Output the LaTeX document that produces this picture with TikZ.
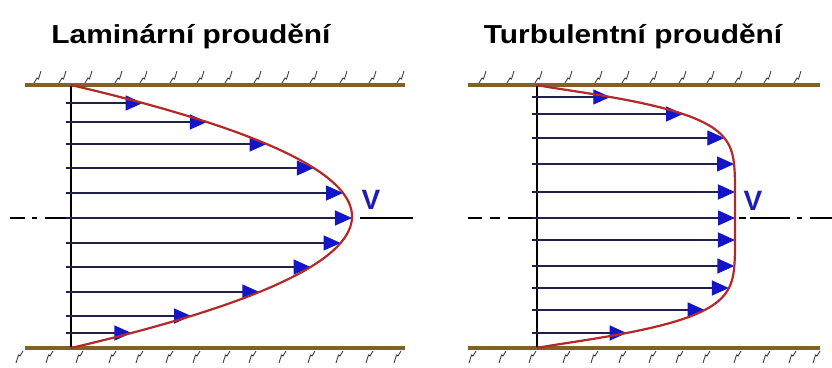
\documentclass[tikz,border=0pt]{standalone}
\usepackage{fontspec}
\setmainfont{Liberation Sans}
\usetikzlibrary{arrows.meta}
\definecolor{wallc}{HTML}{806226}
\definecolor{hatchc}{HTML}{404040}
\definecolor{linec}{HTML}{20204A}
\definecolor{tipc}{HTML}{1414C8}
\definecolor{profc}{HTML}{B42828}
\definecolor{vc}{HTML}{1E1EB4}
\tikzset{
  wall/.style={draw=wallc, line width=4pt},
  hatchstroke/.style={draw=hatchc, line width=0.9pt},
  axisline/.style={draw=black, line width=2.6pt},
  vel/.style={draw=linec, line width=1.3pt, -{Triangle[length=17pt,width=15pt,color=tipc]}},
  profile/.style={draw=profc, line width=2.2pt},
  cline/.style={draw=black, line width=1.3pt},
  title/.style={font=\fontsize{26}{30}\selectfont\bfseries, anchor=base, inner sep=0pt},
  vlabel/.style={font=\fontsize{28}{30}\selectfont\bfseries, text=vc, inner sep=0pt}
}
\begin{document}
\begin{tikzpicture}[x=1pt,y=-1pt,
  declare function={
    lam(\y)=71+281*(1-((\y-216.5)/131.5)^2);
    tur(\y)=537+198*(max(1-(abs(\y-216.5)/131.5)^6,0.00001))^1.2;
  }]
\useasboundingbox (0,0) rectangle (832,367);
\fill[white] (0,0) rectangle (832,367);

% titles
\node[title] (t1) at (191,43) {\scalebox{1.15}[1]{Laminární proudění}};
\node[title] (t2) at (633,43) {\scalebox{1.15}[1]{Turbulentní proudění}};

% hatching
\foreach \x in {37,62,88,118,143,173,200,228,257,285,313,343,372,400,
                482,510,538,568,598,625,653,682,710,738,767,797}
  \draw[hatchstroke] (\x-3,83) -- (\x,78) -- (\x+1.5,79) -- (\x+4,71);
\foreach \x in {20,50,80,113,140,170,197,227,253,283,312,340,370,398,
                473,503,533,567,595,623,653,680,707,738,767,793,817}
  \draw[hatchstroke] (\x+3,351) -- (\x,356) -- (\x-1.5,355) -- (\x-4,363);

% walls
\coordinate (lw1) at (25,85); \coordinate (lw2) at (405,85);
\coordinate (lw3) at (25,348); \coordinate (lw4) at (405,348);
\coordinate (rw1) at (468,85); \coordinate (rw2) at (820,85);
\coordinate (rw3) at (468,348); \coordinate (rw4) at (820,348);
\draw[wall] (lw1) -- (lw2);
\draw[wall] (lw3) -- (lw4);
\draw[wall] (rw1) -- (rw2);
\draw[wall] (rw3) -- (rw4);

% centre lines
\draw[cline] (10,218) -- (25,218);
\draw[cline] (32,218) -- (37,218);
\draw[cline] (45,218) -- (66,218);
\draw[cline] (360,218) -- (413,218);
\draw[cline] (468,218) -- (482,218);
\draw[cline] (490,218) -- (500,218);
\draw[cline] (508,218) -- (532,218);
\draw[cline] (739,218) -- (746,218);
\draw[cline] (750,218) -- (790,218);
\draw[cline] (797,218) -- (802,218);
\draw[cline] (810,218) -- (832,218);

% vertical axes
\coordinate (la) at (71,86); \coordinate (lb) at (71,347);
\coordinate (ra) at (537,86); \coordinate (rb) at (537,347);
\draw[axisline] (la) -- (lb);
\draw[axisline] (ra) -- (rb);

% laminar velocity vectors
\foreach \y in {103,122,144,168,193,218,243,267,292,316,333} {
  \pgfmathsetmacro{\xe}{lam(\y)}
  \draw[vel] (66,\y) -- (\xe,\y);
}
% laminar profile
\draw[profile] plot[domain=85:348, samples=80] ({lam(\x)}, \x);

% turbulent velocity vectors
\foreach \y in {97,114,138,164,192,218,240,266,288,310,333} {
  \pgfmathsetmacro{\xe}{tur(\y)}
  \draw[vel] (532,\y) -- (\xe,\y);
}
% turbulent profile
\draw[profile] (537,85) -- plot[domain=85.3:347.7, samples=120] ({tur(\x)}, \x) -- (537,348);

% V labels
\node[vlabel] (v1) at (371,200) {V};
\node[vlabel] (v2) at (753,201) {V};
\end{tikzpicture}
\end{document}
